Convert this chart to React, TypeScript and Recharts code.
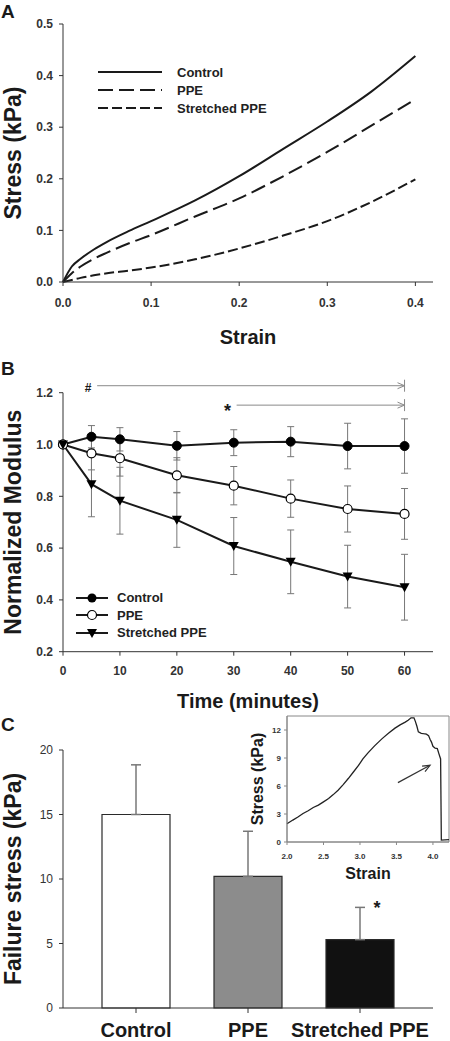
import React from 'react';
import {
  LineChart,
  Line,
  BarChart,
  Bar,
  Cell,
  XAxis,
  YAxis,
  ErrorBar,
  ReferenceLine,
  ReferenceArea,
  Legend,
  LabelList,
} from 'recharts';

const FONT = '"Liberation Sans", Arial, Helvetica, sans-serif';
const INK = '#1a1a1a';
const AXIS = '#333';
const ERR = '#777';
const SIG = '#8a8a8a';

// ---- Panel A: stress vs strain
const strainA = [0, 0.01, 0.02, 0.035, 0.05, 0.075, 0.1, 0.15, 0.2, 0.25, 0.3, 0.35, 0.4];
const stressControl = [0, 0.03, 0.045, 0.063, 0.078, 0.099, 0.118, 0.158, 0.205, 0.258, 0.311, 0.369, 0.438];
const stressPPE = [0, 0.017, 0.03, 0.045, 0.057, 0.075, 0.091, 0.127, 0.162, 0.205, 0.252, 0.303, 0.354];
const stressStretched = [0, 0.004, 0.008, 0.013, 0.017, 0.022, 0.028, 0.044, 0.065, 0.09, 0.118, 0.155, 0.199];
const ticksA_x = [0, 0.1, 0.2, 0.3, 0.4];
const ticksA_y = [0, 0.1, 0.2, 0.3, 0.4, 0.5];

// ---- Panel B: normalized modulus over time
const timeB = [0, 5, 10, 20, 30, 40, 50, 60];
const modControl = [1.0, 1.03, 1.02, 0.995, 1.007, 1.011, 0.994, 0.994];
const errControl = [0, 0.043, 0.045, 0.055, 0.05, 0.058, 0.088, 0.105];
const modPPE = [1.0, 0.966, 0.947, 0.881, 0.841, 0.791, 0.751, 0.732];
const errPPE = [0, 0.064, 0.069, 0.068, 0.074, 0.072, 0.089, 0.098];
const modStretched = [1.0, 0.847, 0.783, 0.709, 0.608, 0.547, 0.49, 0.449];
const errStretched = [0, 0.126, 0.129, 0.106, 0.11, 0.123, 0.121, 0.127];
const ticksB_x = [0, 10, 20, 30, 40, 50, 60];
const ticksB_y = [0.2, 0.4, 0.6, 0.8, 1.0, 1.2];
const sigSymbols = ['#', '*'];
const sigFrom = [6, 30.5];
const sigTo = [60, 60];
const sigLevel = [1.227, 1.152];

// ---- Panel C: failure stress
const groups = ['Control', 'PPE', 'Stretched PPE'];
const failureStress = [15.0, 10.2, 5.3];
const failureErr = [3.85, 3.5, 2.5];
const failureSig = ['', '', '*'];
const ticksC_y = [0, 5, 10, 15, 20];
const barFills = ['#ffffff', '#8c8c8c', '#111111'];

// ---- Inset: single failure trace
const insetStrain = [2.0, 2.08, 2.155, 2.22, 2.29, 2.36, 2.43, 2.5, 2.57, 2.63, 2.7, 2.77, 2.84, 2.91, 2.98, 3.04, 3.11, 3.2, 3.3, 3.39, 3.48, 3.55, 3.62, 3.66, 3.7, 3.74, 3.76, 3.78, 3.8, 3.84, 3.87, 3.91, 3.94, 3.96, 3.98, 4.0, 4.03, 4.06, 4.08, 4.105, 4.115, 4.22];
const insetStress = [1.95, 2.35, 2.7, 3.05, 3.35, 3.7, 3.95, 4.3, 4.65, 5.05, 5.55, 6.15, 6.8, 7.5, 8.2, 8.9, 9.55, 10.3, 11.05, 11.65, 12.2, 12.55, 12.85, 13.05, 13.3, 13.3, 12.9, 12.4, 11.8, 11.65, 11.6, 11.55, 11.4, 11.0, 10.7, 10.25, 10.05, 10.0, 9.5, 8.9, 0.2, 0.25];
const insetTicksX = [2.0, 2.5, 3.0, 3.5, 4.0];
const insetTicksY = [0, 3, 6, 9, 12];
const insetArrowFrom = { x: 3.52, y: 6.36 };
const insetArrowTo = { x: 3.96, y: 8.22 };

const curvesA = strainA.map((s, i) => ({
  strain: s,
  control: stressControl[i],
  ppe: stressPPE[i],
  stretched: stressStretched[i],
}));

const modulusB = timeB.map((t, i) => ({
  time: t,
  control: modControl[i],
  controlErr: errControl[i],
  ppe: modPPE[i],
  ppeErr: errPPE[i],
  stretched: modStretched[i],
  stretchedErr: errStretched[i],
}));

const barsC = groups.map((g, i) => ({
  group: g,
  stress: failureStress[i],
  err: [0, failureErr[i]],
  sig: failureSig[i],
}));

const traceInset = insetStrain.map((s, i) => ({ strain: s, stress: insetStress[i] }));

const tickBold = { fontSize: 12, fontWeight: 700, fill: AXIS, fontFamily: FONT };
const titleStyle = { fontSize: 20, fontWeight: 700, fill: INK, fontFamily: FONT };
const yTitleStyle = { fontSize: 23, fontWeight: 700, fill: INK, fontFamily: FONT, textAnchor: 'middle' as const };

const PanelLetter = ({ letter, y }: { letter: string; y: number }) => (
  <text x={1} y={y} fontSize={19} fontWeight={700} fill={INK} fontFamily={FONT}>
    {letter}
  </text>
);

const legendA = [
  { name: 'Control', dash: undefined as string | undefined },
  { name: 'PPE', dash: '15 6' },
  { name: 'Stretched PPE', dash: '10 4' },
];

const LegendA = () => (
  <div style={{ fontFamily: FONT }}>
    {legendA.map((l) => (
      <div key={l.name} style={{ display: 'flex', alignItems: 'center', height: 18 }}>
        <svg width={64} height={10} style={{ marginRight: 15 }}>
          <line x1={0} y1={5} x2={64} y2={5} stroke={INK} strokeWidth={2} strokeDasharray={l.dash} />
        </svg>
        <span style={{ fontSize: 13, fontWeight: 700, color: '#222' }}>{l.name}</span>
      </div>
    ))}
  </div>
);

const TriangleDot = (props: any) => {
  const { cx, cy, index } = props;
  if (cx == null || cy == null) return <g key={`t-${index}`} />;
  return <path key={`t-${index}`} d={`M${cx - 5},${cy - 4} L${cx + 5},${cy - 4} L${cx},${cy + 5} Z`} fill="#000" />;
};

const legendB = [
  { name: 'Control', kind: 'filled' },
  { name: 'PPE', kind: 'open' },
  { name: 'Stretched PPE', kind: 'tri' },
];

const LegendB = () => (
  <div style={{ fontFamily: FONT }}>
    {legendB.map((l) => (
      <div key={l.name} style={{ display: 'flex', alignItems: 'center', height: 17.5 }}>
        <svg width={34} height={12} style={{ marginRight: 7 }}>
          <line x1={0} y1={6} x2={32} y2={6} stroke={INK} strokeWidth={2} />
          {l.kind === 'filled' && <circle cx={16} cy={6} r={4.5} fill="#000" />}
          {l.kind === 'open' && <circle cx={16} cy={6} r={4.5} fill="#fff" stroke="#000" strokeWidth={1.2} />}
          {l.kind === 'tri' && <path d="M11,2 L21,2 L16,11 Z" fill="#000" />}
        </svg>
        <span style={{ fontSize: 13, fontWeight: 700, color: '#222' }}>{l.name}</span>
      </div>
    ))}
  </div>
);

const makeSigShape = (symbol: string) => (props: any) => {
  const { x1, y1, x2 } = props;
  if (x1 == null) return <g />;
  const dy = symbol === '*' ? 12 : 6;
  return (
    <g>
      <line x1={x1} y1={y1} x2={x2} y2={y1} stroke={SIG} strokeWidth={1} />
      <polyline points={`${x2 - 7},${y1 - 3} ${x2},${y1} ${x2 - 7},${y1 + 3}`} fill="none" stroke={SIG} strokeWidth={1} />
      <line x1={x2} y1={y1 - 6} x2={x2} y2={y1 + 6} stroke={SIG} strokeWidth={1} />
      <text x={x1 - 9} y={y1 + dy} textAnchor="middle" fontSize={symbol === '*' ? 18 : 12} fontWeight={700} fill={INK} fontFamily={FONT}>
        {symbol}
      </text>
    </g>
  );
};

const InsetArrow = (props: any) => {
  const { x1, y1, x2, y2 } = props;
  if (x1 == null) return <g />;
  const ang = Math.atan2(y2 - y1, x2 - x1);
  const h = 8;
  const ax = x2 - h * Math.cos(ang - 0.4);
  const ay = y2 - h * Math.sin(ang - 0.4);
  const bx = x2 - h * Math.cos(ang + 0.4);
  const by = y2 - h * Math.sin(ang + 0.4);
  return (
    <g>
      <line x1={x1} y1={y1} x2={x2} y2={y2} stroke="#333" strokeWidth={1.2} />
      <polyline points={`${ax},${ay} ${x2},${y2} ${bx},${by}`} fill="none" stroke="#333" strokeWidth={1.2} />
    </g>
  );
};

const PanelA = () => (
  <LineChart width={450} height={350} data={curvesA} margin={{ top: 24, right: 17, left: 0, bottom: 38 }}>
    <XAxis
      type="number"
      dataKey="strain"
      domain={[0, 0.42]}
      ticks={ticksA_x}
      tickFormatter={(v: number) => v.toFixed(1)}
      height={30}
      tickSize={4}
      tickMargin={12}
      stroke={AXIS}
      tick={tickBold}
      label={{ value: 'Strain', position: 'bottom', offset: 18, style: titleStyle }}
    />
    <YAxis
      type="number"
      domain={[0, 0.5]}
      ticks={ticksA_y}
      tickFormatter={(v: number) => v.toFixed(1)}
      width={63}
      tickSize={4}
      tickMargin={6}
      stroke={AXIS}
      tick={tickBold}
      label={{ value: 'Stress (kPa)', angle: -90, position: 'insideLeft', offset: 13, style: yTitleStyle }}
    />
    <Legend
      layout="vertical"
      align="center"
      verticalAlign="middle"
      content={() => <LegendA />}
      wrapperStyle={{ left: 98, top: 63, width: 200, height: 56 }}
    />
    <Line type="monotone" dataKey="control" name="Control" stroke={INK} strokeWidth={2} dot={false} isAnimationActive={false} />
    <Line type="monotone" dataKey="ppe" name="PPE" stroke={INK} strokeWidth={2} strokeDasharray="15 6" dot={false} isAnimationActive={false} />
    <Line type="monotone" dataKey="stretched" name="Stretched PPE" stroke={INK} strokeWidth={2} strokeDasharray="10 4" dot={false} isAnimationActive={false} />
    <PanelLetter letter="A" y={18} />
  </LineChart>
);

const PanelB = () => (
  <LineChart width={450} height={375} data={modulusB} margin={{ top: 47.7, right: 17, left: 0, bottom: 38.3 }}>
    <XAxis
      type="number"
      dataKey="time"
      domain={[0, 65]}
      ticks={ticksB_x}
      height={30}
      tickSize={4}
      tickMargin={11}
      stroke={AXIS}
      tick={tickBold}
      label={{ value: 'Time (minutes)', position: 'bottom', offset: 12.3, style: titleStyle }}
    />
    <YAxis
      type="number"
      domain={[0.2, 1.2]}
      ticks={ticksB_y}
      tickFormatter={(v: number) => v.toFixed(1)}
      width={63}
      tickSize={4}
      tickMargin={6}
      stroke={AXIS}
      tick={tickBold}
      label={{ value: 'Normalized Modulus', angle: -90, position: 'insideLeft', offset: 13, style: yTitleStyle }}
    />
    <Legend
      layout="vertical"
      align="center"
      verticalAlign="middle"
      content={() => <LegendB />}
      wrapperStyle={{ left: 76, top: 244, width: 200, height: 54 }}
    />
    {sigSymbols.map((s, i) => (
      <ReferenceLine
        key={`sig-${i}`}
        segment={[
          { x: sigFrom[i], y: sigLevel[i] },
          { x: sigTo[i], y: sigLevel[i] },
        ]}
        ifOverflow="visible"
        shape={makeSigShape(s)}
      />
    ))}
    <Line dataKey="control" stroke={INK} strokeWidth={2} dot={{ r: 4.5, fill: '#000', stroke: '#000', strokeWidth: 1 }} isAnimationActive={false}>
      <ErrorBar dataKey="controlErr" width={3.5} stroke={ERR} strokeWidth={1} direction="y" />
    </Line>
    <Line dataKey="ppe" stroke={INK} strokeWidth={2} dot={{ r: 4.5, fill: '#fff', stroke: '#000', strokeWidth: 1.2 }} isAnimationActive={false}>
      <ErrorBar dataKey="ppeErr" width={3.5} stroke={ERR} strokeWidth={1} direction="y" />
    </Line>
    <Line dataKey="stretched" stroke={INK} strokeWidth={2} dot={TriangleDot} isAnimationActive={false}>
      <ErrorBar dataKey="stretchedErr" width={3.5} stroke={ERR} strokeWidth={1} direction="y" />
    </Line>
    <PanelLetter letter="B" y={30} />
  </LineChart>
);

const PanelC = () => (
  <BarChart width={450} height={341} data={barsC} margin={{ top: 50, right: 17, left: 0, bottom: 0 }}>
    <XAxis
      dataKey="group"
      padding={{ left: 17, right: 17 }}
      height={33}
      tickSize={5}
      tickMargin={10}
      stroke={AXIS}
      interval={0}
      tick={{ fontSize: 20, fontWeight: 700, fill: INK, fontFamily: FONT }}
    />
    <YAxis
      type="number"
      domain={[0, 20]}
      ticks={ticksC_y}
      width={63}
      tickSize={4}
      tickMargin={6}
      stroke={AXIS}
      tick={{ fontSize: 12, fill: AXIS, fontFamily: FONT }}
      label={{ value: 'Failure stress (kPa)', angle: -90, position: 'insideLeft', offset: 13, style: yTitleStyle }}
    />
    <Bar dataKey="stress" barSize={68} stroke="#2a2a2a" strokeWidth={1.2} isAnimationActive={false}>
      {barsC.map((d, i) => (
        <Cell key={d.group} fill={barFills[i]} />
      ))}
      <ErrorBar dataKey="err" width={5} stroke={ERR} strokeWidth={1.5} direction="y" />
      <LabelList
        dataKey="sig"
        content={(p: any) =>
          p.value ? (
            <text x={p.x + p.width / 2 + 17} y={p.y - 26} textAnchor="middle" fontSize={18} fontWeight={700} fill={INK} fontFamily={FONT}>
              {p.value}
            </text>
          ) : null
        }
      />
    </Bar>
    <PanelLetter letter="C" y={31} />
  </BarChart>
);

const Inset = () => (
  <LineChart width={220} height={190} data={traceInset} margin={{ top: 16, right: 1, left: 0, bottom: 28 }}>
    <XAxis
      type="number"
      dataKey="strain"
      domain={[2, 4.22]}
      ticks={insetTicksX}
      tickFormatter={(v: number) => v.toFixed(1)}
      height={20}
      tickSize={3}
      tickMargin={8}
      stroke="#888"
      tick={{ fontSize: 8, fontWeight: 700, fill: AXIS, fontFamily: FONT }}
      label={{ value: 'Strain', position: 'bottom', offset: 5.3, style: { fontSize: 16, fontWeight: 700, fill: INK, fontFamily: FONT } }}
    />
    <YAxis
      type="number"
      domain={[0, 13.5]}
      ticks={insetTicksY}
      width={57}
      tickSize={3}
      tickMargin={3}
      stroke="#888"
      tick={{ fontSize: 8, fontWeight: 700, fill: AXIS, fontFamily: FONT }}
      label={{
        value: 'Stress (kPa)',
        angle: -90,
        position: 'insideLeft',
        offset: 27,
        style: { fontSize: 16, fontWeight: 700, fill: INK, fontFamily: FONT, textAnchor: 'middle' },
      }}
    />
    <ReferenceArea x1={2} x2={4.22} y1={0} y2={13.5} fill="none" stroke="#888" strokeWidth={1} />
    <Line type="linear" dataKey="stress" stroke="#222" strokeWidth={1.3} dot={false} isAnimationActive={false} />
    <ReferenceLine segment={[insetArrowFrom, insetArrowTo]} shape={InsetArrow} />
  </LineChart>
);

export default function App() {
  return (
    <div
      style={{
        position: 'absolute',
        left: 0,
        top: 0,
        width: 450,
        height: 1041,
        background: '#fff',
        overflow: 'hidden',
        fontFamily: FONT,
      }}
    >
      <div style={{ position: 'absolute', left: 0, top: 0 }}>
        <PanelA />
      </div>
      <div style={{ position: 'absolute', left: 0, top: 345 }}>
        <PanelB />
      </div>
      <div style={{ position: 'absolute', left: 0, top: 700 }}>
        <PanelC />
      </div>
      <div style={{ position: 'absolute', left: 230, top: 700 }}>
        <Inset />
      </div>
    </div>
  );
}
